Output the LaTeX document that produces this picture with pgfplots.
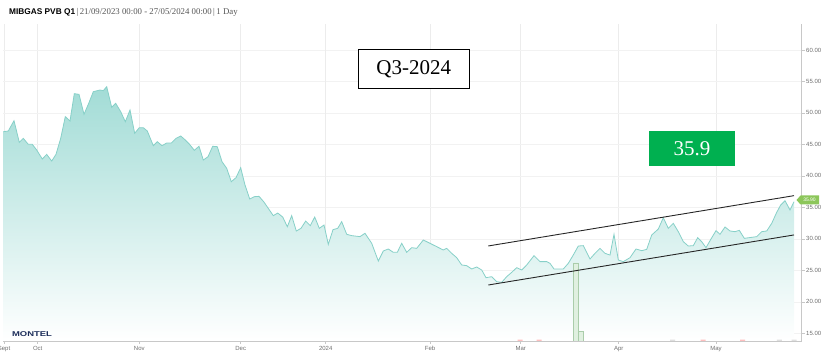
\documentclass[border=0pt]{standalone}
\usepackage{fontspec}
\setmainfont{Liberation Serif}
\setsansfont{Liberation Sans}
\usepackage{pgfplots}
\usepackage{pgfplotstable}
\pgfplotsset{compat=1.18}
\definecolor{tealline}{RGB}{135,208,200}
\definecolor{tealfill}{RGB}{162,220,214}
\definecolor{gridc}{RGB}{236,236,236}
\definecolor{hgridc}{RGB}{242,242,242}
\definecolor{axisc}{RGB}{200,200,200}
\definecolor{tickc}{RGB}{110,110,110}
\definecolor{boxgreen}{RGB}{0,176,80}
\definecolor{flaggreen}{RGB}{140,198,90}
\definecolor{montel}{RGB}{28,45,90}
\definecolor{volfill}{RGB}{224,240,224}
\definecolor{voledge}{RGB}{170,205,170}
\definecolor{titlegray}{RGB}{85,85,85}

\pgfplotstableread{
x v
3.3 47.02
8.3 47.13
14 48.77
19.3 45.33
23.3 45.96
28.3 45.01
32.3 45.01
36.7 44.11
42.3 42.68
46.7 43.42
51.7 42.36
56 43.42
60.7 45.96
65.3 49.41
70 48.72
74.3 53.06
79 52.95
84 49.78
88.7 51.52
93.3 53.38
100 53.64
103.3 53.54
106.7 54.17
111.7 50.89
115.7 51.52
120.7 50.20
125.3 48.61
130 50.46
134.7 46.76
139.3 47.66
143.3 47.66
147.3 47.13
153.3 44.80
157.3 45.43
162 44.80
166.7 45.22
171.3 45.22
176 45.96
180.7 46.34
185.3 45.70
189.3 45.06
194.3 44.06
199 44.70
203.3 42.52
208 43.05
212.7 44.70
217.3 44.64
222 42.26
226.7 41.20
231.3 39.08
236 39.72
240.7 41.30
245 38.55
249.7 36.33
254.3 36.70
259 36.75
263.7 35.90
268.3 34.84
273.3 33.68
277.7 34.10
282.7 33.47
287.3 31.93
291.7 33.68
296.3 31.24
301 31.67
305.7 32.83
310.3 32.09
314.7 33.47
319.3 31.67
324 32.20
328.3 29.13
333 31.46
337.7 31.67
341.7 32.73
346.7 30.72
351.7 30.51
360 30.35
365 30.88
371.7 29.29
378.3 26.48
383.3 28.07
388.3 28.39
393.3 27.86
397.3 27.86
401.7 29.29
406.7 27.86
411.7 28.60
416.7 28.49
423.3 29.82
430 29.29
436.7 28.76
443.3 28.23
446.7 28.49
451.7 27.70
456.7 27.01
461.7 25.85
466.7 25.74
471.7 25.21
476.7 25.53
481.7 25.05
486 23.83
491.7 23.99
496.7 23.20
501.7 23.09
506.7 23.99
511.7 24.68
516.7 25.42
521.7 25.05
526.7 25.85
534 27.33
540 26.38
546.7 26.38
550 26.11
554 25.21
563.3 25.21
568.3 26.11
573.3 27.44
578.3 28.86
583.3 28.92
590 26.80
595 27.70
600 28.49
605 27.70
610 27.43
614 30.72
618.3 26.64
623.3 26.38
630 27.01
636 28.39
641.7 28.12
646.7 28.33
651.7 30.61
658.3 31.56
663.3 33.36
668.3 31.67
673.3 32.46
678.3 31.14
683.3 29.55
688.3 28.86
693.3 28.92
697.7 30.19
701.7 29.55
706 28.60
711 29.98
716 31.30
720 30.72
725 31.88
730 31.25
735 31.14
739.3 31.35
744.3 30.08
749.3 30.19
756.7 30.35
761.7 31.14
766.7 31.25
771.7 32.46
776.7 34.21
780.7 35.38
785 36.06
790 34.58
794 35.90
}\pricedata

\begin{document}
\begin{tikzpicture}[x=1pt,y=1pt]
\begin{axis}[
  at={(3,35.0)}, anchor=south west,
  scale only axis, width=798.7pt, height=317.3pt,
  xmin=3, xmax=801.7, ymin=13.78, ymax=64.18,
  axis x line*=bottom, axis y line*=right,
  axis line style={-, draw=axisc, line width=0.8pt},
  xtick={4,37.7,139.3,240.7,325.7,430,520.7,618.7,716},
  xticklabels={Sept,Oct,Nov,Dec,2024,Feb,Mar,Apr,May},
  ytick={15,20,...,60},
  xmajorgrids, ymajorgrids,
  x grid style={draw=gridc, line width=0.6pt},
  y grid style={draw=hgridc, line width=0.6pt},
  extra x ticks={325.7}, extra x tick labels={},
  extra x tick style={grid style={draw=gray!45, line width=0.6pt}, major tick length=0pt},
  tick style={draw=axisc, line width=0.6pt},
  major tick length=3pt, tick align=outside,
  tick label style={font=\sffamily\fontsize{6}{7}\selectfont, text=tickc},
  yticklabel style={anchor=west, xshift=-2pt,
    /pgf/number format/fixed, /pgf/number format/fixed zerofill,
    /pgf/number format/precision=2, /pgf/number format/assume math mode=true},
  xticklabel style={yshift=1pt},
]
\addplot[draw=none, top color=tealfill, bottom color=white] table[x=x,y=v] {\pricedata} \closedcycle;
\addplot[tealline, line width=0.8pt] table[x=x,y=v] {\pricedata};
\addplot[ybar, bar width=5, fill=volfill, draw=voledge, line width=0.5pt] coordinates {(575.8,26.2) (580.8,15.26)};
\addplot[ybar, bar width=5, fill=red!25, draw=none] coordinates {(520,14.0) (539,14.0) (703,14.0) (742.7,14.0)};
\addplot[ybar, bar width=5, fill=gray!25, draw=none] coordinates {(672.7,14.0) (779.3,14.0) (794,14.0)};
\addplot[black!85, line width=0.9pt] coordinates {(488.3,28.87) (794,36.86)};
\addplot[black!85, line width=0.9pt] coordinates {(488.3,22.67) (794,30.62)};
\end{axis}
% last-price flag
\fill[flaggreen] (796.5,163) -- (800.5,167.5) -- (819,167.5) -- (819,158.5) -- (800.5,158.5) -- cycle;
\node[text=white, font=\sffamily\fontsize{5}{6}\selectfont, inner sep=0] at (809.5,163) {35.90};
% annotation boxes
\node[draw=black, line width=1pt, fill=white, minimum width=111pt, minimum height=39pt, inner sep=0,
  font=\rmfamily\fontsize{21}{24}\selectfont] at (413.7,294.2) {Q3-2024};
\node[fill=boxgreen, minimum width=86pt, minimum height=34.7pt, inner sep=0, text=white,
  font=\rmfamily\fontsize{21}{24}\selectfont] at (692,214.6) {35.9};
% title
\node[anchor=base west, inner sep=0] at (9,348) {\sffamily\bfseries\fontsize{8.3}{9.6}\selectfont MIBGAS PVB Q1\,\rmfamily\mdseries\fontsize{8.8}{10}\selectfont\color{titlegray}|\,21/09/2023 00:00 - 27/05/2024 00:00\,|\,1 Day};
% logo
\node[inner sep=0, text=montel] at (32,29) {\scalebox{1.35}[1]{\sffamily\bfseries\fontsize{7}{8}\selectfont MONTEL}};
\pgfresetboundingbox
\path[use as bounding box] (0,0) rectangle (840,363);
\end{tikzpicture}
\end{document}
